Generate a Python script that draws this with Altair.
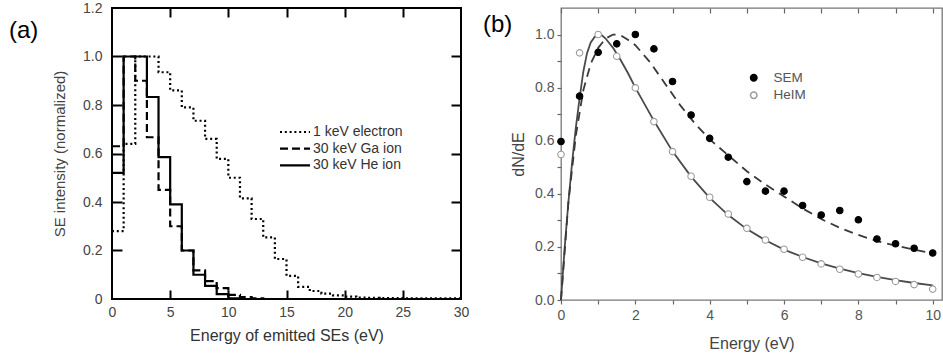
import altair as alt
import pandas as pd

# ---------------- Panel (a): SE energy histograms (1 eV bins) ----------------
series_names = ["1 keV electron", "30 keV Ga ion", "30 keV He ion"]
electron = [0.28, 0.64, 1.0, 1.0, 0.935, 0.86, 0.79, 0.735, 0.66, 0.578, 0.50, 0.415,
            0.33, 0.254, 0.165, 0.095, 0.05, 0.033, 0.022, 0.015, 0.01, 0.006, 0.005,
            0.004, 0.004, 0.003, 0.003, 0.003, 0.003, 0.003]
ga_ion = [0.63, 1.0, 0.9, 0.667, 0.45, 0.3, 0.2, 0.118, 0.074, 0.045, 0.017, 0.008, 0.003, 0.0]
he_ion = [0.52, 1.0, 1.0, 0.833, 0.585, 0.39, 0.2, 0.1, 0.054, 0.02, 0.003, 0.0]

a_x_labels = [0, 5, 10, 15, 20, 25, 30]
a_y_labels = [0, 0.2, 0.4, 0.6, 0.8, 1.0, 1.2]
a_x_ticks = [5, 10, 15, 20, 25]
a_y_ticks = [0.2, 0.4, 0.6, 0.8, 1.0]

# ---------------- Panel (b): dN/dE ----------------
sem_energy = [0, 0.5, 1, 1.5, 2, 2.5, 3, 3.5, 4, 4.5, 5, 5.5, 6, 6.5, 7, 7.5, 8, 8.5, 9, 9.5, 10]
sem_vals = [0.597, 0.768, 0.933, 0.965, 1.0, 0.946, 0.823, 0.697, 0.609, 0.538, 0.446,
            0.41, 0.41, 0.356, 0.32, 0.337, 0.302, 0.23, 0.212, 0.195, 0.177]
heim_vals = [0.548, 0.931, 1.0, 0.918, 0.799, 0.672, 0.559, 0.466, 0.387, 0.324, 0.27,
             0.226, 0.191, 0.161, 0.136, 0.116, 0.098, 0.085, 0.07, 0.058, 0.041]

heim_fit_x = [0, 0.1, 0.2, 0.3, 0.4, 0.5, 0.6, 0.7, 0.8, 0.9, 1.0, 1.1, 1.2, 1.4, 1.6, 1.8,
              2.0, 2.5, 3.0, 3.5, 4.0, 4.5, 5.0, 5.5, 6.0, 6.5, 7.0, 7.5, 8.0, 8.5, 9.0, 9.5, 10.0]
heim_fit_y = [0, 0.2, 0.37, 0.52, 0.65, 0.76, 0.86, 0.93, 0.97, 0.99, 1.0, 0.997, 0.985,
              0.95, 0.905, 0.855, 0.80, 0.675, 0.56, 0.465, 0.385, 0.32, 0.267, 0.225,
              0.19, 0.162, 0.138, 0.118, 0.101, 0.087, 0.075, 0.064, 0.055]
sem_fit_x = [0, 0.2, 0.4, 0.6, 0.8, 1.0, 1.2, 1.4, 1.6, 1.8, 2.0, 2.4, 2.8, 3.2, 3.6, 4.0,
             4.5, 5.0, 5.5, 6.0, 6.5, 7.0, 7.5, 8.0, 8.5, 9.0, 9.5, 10.0]
sem_fit_y = [0, 0.37, 0.62, 0.79, 0.89, 0.95, 0.985, 1.0, 0.998, 0.98, 0.96, 0.895, 0.815,
             0.735, 0.665, 0.605, 0.545, 0.485, 0.435, 0.39, 0.345, 0.305, 0.272, 0.245,
             0.222, 0.205, 0.19, 0.175]

b_x_ticks = [0, 1, 2, 3, 4, 5, 6, 7, 8, 9, 10]
b_y_ticks = [0, 0.1, 0.2, 0.3, 0.4, 0.5, 0.6, 0.7, 0.8, 0.9, 1.0]

FONT = "Liberation Sans"

# ---------- build panel (a) ----------
rows = []
for name, vals in zip(series_names, [electron, ga_ion, he_ion]):
    for i, v in enumerate(vals):
        rows.append({"E": i, "v": v, "s": name})
    rows.append({"E": len(vals), "v": vals[-1], "s": name})
df_a = pd.DataFrame(rows)

xs_a = alt.Scale(domain=[0, 30], nice=False, zero=False)
ys_a = alt.Scale(domain=[0, 1.2], nice=False)

ax_a_x = alt.Axis(orient="bottom", values=a_x_labels, ticks=False, domain=False, grid=False,
                  labelPadding=6, labelFontSize=14, labelColor="#444", labelFlush=False,
                  labelOverlap=False, title="Energy of emitted SEs (eV)", titleFontSize=16,
                  titleColor="#333", titlePadding=8, titleFontWeight="normal")
ax_a_y = alt.Axis(orient="left", values=a_y_labels, ticks=False, domain=False, grid=False,
                  labelPadding=10, labelFontSize=14, labelColor="#444", labelOverlap=False,
                  labelExpr="datum.value == 0 ? '0' : format(datum.value, '.1f')",
                  title="SE intensity (normalized)", titleFontSize=15, titleColor="#444",
                  titlePadding=15, titleFontWeight="normal")

steps = alt.Chart(df_a).mark_line(interpolate="step-after", strokeWidth=2.2, color="black").encode(
    x=alt.X("E:Q", scale=xs_a, axis=ax_a_x),
    y=alt.Y("v:Q", scale=ys_a, axis=ax_a_y),
    strokeDash=alt.StrokeDash(
        "s:N", sort=series_names,
        scale=alt.Scale(domain=series_names, range=[[2, 2.8], [8, 4], [1, 0]]),
        legend=alt.Legend(orient="none", legendX=176, legendY=117, title=None,
                          symbolType="M-3,0H3", symbolSize=100, symbolStrokeWidth=2.2,
                          symbolStrokeColor="black", labelFontSize=14, labelColor="#333",
                          labelOffset=11, rowPadding=2.7, padding=0, labelFont=FONT),
    ),
)


def tick_axis(orient, values, size):
    return alt.Axis(orient=orient, offset=-size, values=values, labels=False, domain=False,
                    grid=False, ticks=True, tickSize=size, tickWidth=2, tickColor="black",
                    title=None)


ticks_a1 = alt.Chart(df_a).mark_line(opacity=0).encode(
    x=alt.X("E:Q", scale=xs_a, axis=tick_axis("bottom", a_x_ticks, 9)),
    y=alt.Y("v:Q", scale=ys_a, axis=tick_axis("left", a_y_ticks, 10)),
)
ticks_a2 = alt.Chart(df_a).mark_line(opacity=0).encode(
    x=alt.X("E:Q", scale=xs_a, axis=tick_axis("top", a_x_ticks, 9)),
    y=alt.Y("v:Q", scale=ys_a, axis=tick_axis("right", a_y_ticks, 10)),
)
label_a = alt.Chart(pd.DataFrame({"lab": ["(a)"]})).mark_text(
    align="left", baseline="middle", fontSize=24, font=FONT, color="black"
).encode(text="lab:N", x=alt.value(-103), y=alt.value(23))

panel_a = alt.layer(steps, ticks_a1, ticks_a2, label_a).resolve_axis(
    x="independent", y="independent"
).properties(width=349, height=291,
             view=alt.ViewBackground(stroke="black", strokeWidth=2))

# ---------- build panel (b) ----------
df_pts = pd.DataFrame({
    "E": sem_energy + sem_energy,
    "v": sem_vals + heim_vals,
    "g": ["SEM"] * len(sem_energy) + ["HeIM"] * len(sem_energy),
})
df_hfit = pd.DataFrame({"E": heim_fit_x, "v": heim_fit_y})
df_sfit = pd.DataFrame({"E": sem_fit_x, "v": sem_fit_y})

xs_b = alt.Scale(domain=[0, 10.25], nice=False, zero=False)
ys_b = alt.Scale(domain=[0, 1.1], nice=False)

ax_b_x = alt.Axis(orient="bottom", values=b_x_ticks, domain=False, grid=False, ticks=True,
                  tickSize=4, tickColor="#666", tickWidth=1.2, labelPadding=4,
                  labelFontSize=14, labelColor="#555", labelFlush=False, labelOverlap=False,
                  labelExpr="datum.value % 2 == 0 ? format(datum.value, 'd') : ''",
                  title="Energy (eV)", titleFontSize=16, titleColor="#444",
                  titlePadding=13, titleFontWeight="normal")
ax_b_y = alt.Axis(orient="left", values=b_y_ticks, domain=False, grid=False, ticks=True,
                  tickSize=4, tickColor="#666", tickWidth=1.2, labelPadding=3,
                  labelFontSize=14, labelColor="#555", labelOverlap=False,
                  labelExpr="round(datum.value * 10) % 2 == 0 ? format(datum.value, '.1f') : ''",
                  title="dN/dE", titleFontSize=16, titleColor="#444", titlePadding=8,
                  titleFontWeight="normal")

X_b = alt.X("E:Q", scale=xs_b, axis=ax_b_x)
Y_b = alt.Y("v:Q", scale=ys_b, axis=ax_b_y)

heim_line = alt.Chart(df_hfit).mark_line(color="#4a4a4a", strokeWidth=1.8).encode(x=X_b, y=Y_b)
sem_line = alt.Chart(df_sfit).mark_line(color="#3a3a3a", strokeWidth=1.8,
                                        strokeDash=[9, 6]).encode(x=X_b, y=Y_b)

leg_b = alt.Legend(orient="none", legendX=186, legendY=63, title=None, symbolSize=42,
                   labelFontSize=13.5, labelColor="#555", labelOffset=13, rowPadding=2.5,
                   padding=0, labelFont=FONT)
pts = alt.Chart(df_pts).mark_point(filled=True, size=42, strokeWidth=1.1, opacity=1).encode(
    x=X_b, y=Y_b,
    fill=alt.Fill("g:N", sort=["SEM", "HeIM"],
                  scale=alt.Scale(domain=["SEM", "HeIM"], range=["black", "white"]), legend=leg_b),
    stroke=alt.Stroke("g:N", sort=["SEM", "HeIM"],
                      scale=alt.Scale(domain=["SEM", "HeIM"], range=["black", "#9a9a9a"]), legend=leg_b),
)

inner_b = alt.layer(heim_line, sem_line, pts)

ticks_b = alt.Chart(df_hfit).mark_line(opacity=0).encode(
    x=alt.X("E:Q", scale=xs_b,
            axis=alt.Axis(orient="top", offset=-5, values=b_x_ticks, labels=False, domain=False,
                          grid=False, ticks=True, tickSize=5, tickWidth=1.2, tickColor="#666",
                          title=None)),
    y=alt.Y("v:Q", scale=ys_b, axis=ax_b_y),
)
label_b = alt.Chart(pd.DataFrame({"lab": ["(b)"]})).mark_text(
    align="left", baseline="middle", fontSize=24, font=FONT, color="black"
).encode(text="lab:N", x=alt.value(-78), y=alt.value(17))

panel_b = alt.layer(inner_b, ticks_b, label_b).resolve_axis(x="independent").properties(
    width=381, height=292, view=alt.ViewBackground(stroke="#777", strokeWidth=1.3)
)

chart = alt.hconcat(panel_a, panel_b, spacing=12).resolve_scale(
    fill="independent", stroke="independent", strokeDash="independent"
).resolve_legend(
    fill="independent", stroke="independent", strokeDash="independent"
).properties(
    padding={"left": 8, "top": 0, "right": 0, "bottom": 0}
).configure(font=FONT).configure_axis(labelFont=FONT, titleFont=FONT)

chart.save("out.html", embed_options={"renderer": "svg", "actions": False})
